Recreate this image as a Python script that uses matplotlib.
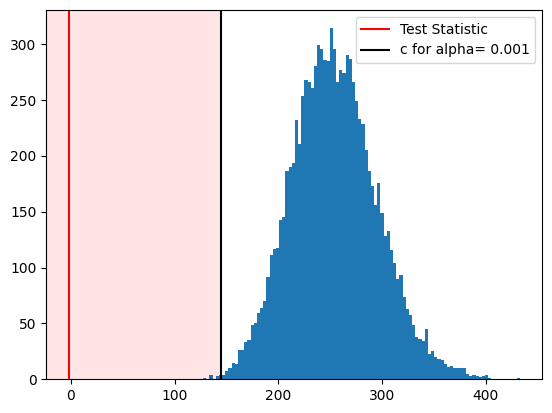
import numpy as np
import matplotlib
matplotlib.use("Agg")
import matplotlib.pyplot as plt

# histogram of simulated statistics (100 bins), counts
bin_lo = 127.4
bin_hi = 432.8
counts = [1, 0, 4, 0, 3, 4, 4, 7, 10, 15,
          14, 26, 26, 33, 35, 49, 50, 59, 64, 70,
          92, 111, 117, 118, 143, 145, 187, 190, 194, 232,
          211, 254, 268, 266, 261, 281, 299, 296, 286, 285,
          315, 296, 266, 277, 274, 290, 287, 266, 249, 233,
          229, 205, 187, 173, 156, 176, 149, 128, 133, 116,
          104, 90, 93, 74, 63, 58, 49, 38, 36, 34,
          45, 23, 25, 20, 18, 17, 14, 11, 12, 10,
          10, 10, 10, 5, 3, 4, 3, 2, 3, 4,
          1, 0, 0, 0, 0, 0, 0, 0, 0, 1]

test_stat = -1.9
c_value = 144.6
alpha = 0.001

edges = np.linspace(bin_lo, bin_hi, len(counts) + 1)

fig = plt.figure(figsize=(5.52, 4.13), dpi=100)
ax = fig.add_axes([46.4 / 552, (413 - 379.3) / 413, 496 / 552, 369.3 / 413])

ax.hist(edges[:-1], bins=edges, weights=counts)
ax.axvline(test_stat, color="red", label="Test Statistic")
ax.axvline(c_value, color="black", label="c for alpha= " + str(alpha))

# autoscale range like matplotlib would give (5% margins)
lo = test_stat - 0.05 * (bin_hi - test_stat)
hi = bin_hi + 0.05 * (bin_hi - test_stat)
ax.set_xlim(lo, hi)
ax.set_ylim(0, max(counts) * 1.05)
ax.axvspan(lo, c_value, color="red", alpha=0.1, lw=0)

ax.legend(loc="upper right")
fig.savefig("out.png", dpi=100)
